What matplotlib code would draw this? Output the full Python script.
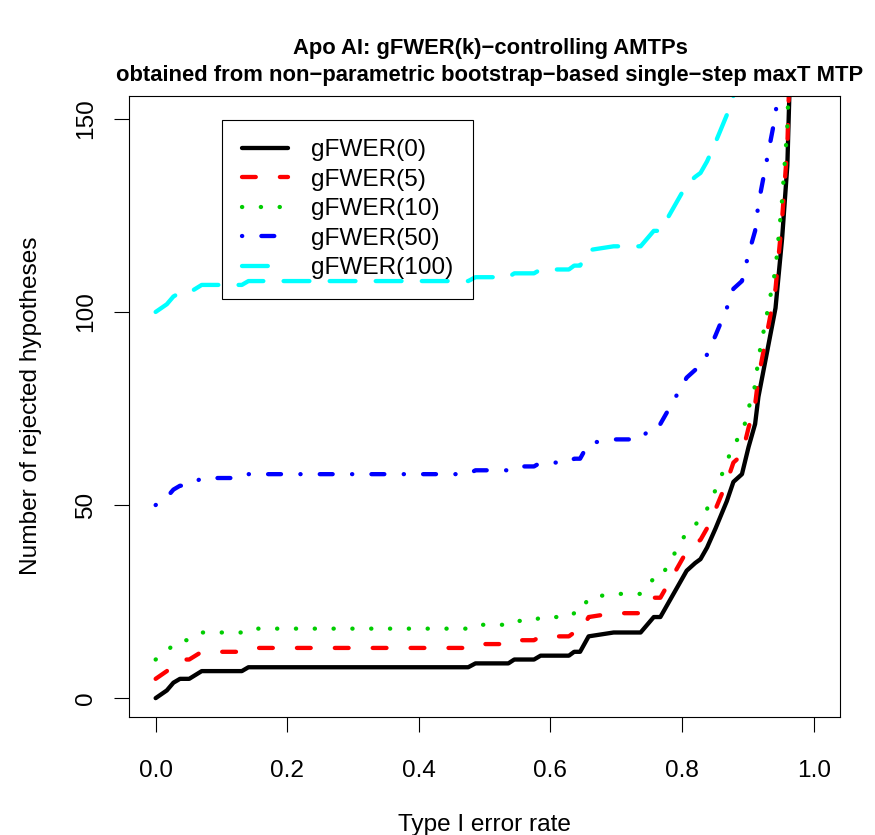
import matplotlib
matplotlib.use('Agg')
import matplotlib.pyplot as plt
import numpy as np

plt.rcParams['font.family'] = ['Liberation Sans', 'DejaVu Sans']

# type I error rate (x) and number of rejections for gFWER(0)
alpha = [0.0, 0.017, 0.027, 0.037, 0.051, 0.070, 0.131, 0.141, 0.475, 0.486,
         0.536, 0.545, 0.575, 0.585, 0.628, 0.636, 0.645, 0.658, 0.696, 0.737,
         0.757, 0.767, 0.807, 0.820, 0.828, 0.838, 0.851, 0.868, 0.878, 0.891,
         0.901, 0.911, 0.916, 0.942, 0.952, 0.960, 0.963, 0.970]
n_rej0 = [0, 2, 4, 5, 5, 7, 7, 8, 8, 9,
          9, 10, 10, 11, 11, 12, 12, 16, 17, 17,
          21, 21, 33, 35, 36, 39, 44, 51, 56, 58,
          65, 71, 78, 101, 119, 138, 156, 175]

# gFWER(k) AMTPs: k extra rejections on top of gFWER(0)
k_values = [0, 5, 10, 50, 100]
labels = ['gFWER(0)', 'gFWER(5)', 'gFWER(10)', 'gFWER(50)', 'gFWER(100)']
colors = ['black', 'red', '#00CD00', 'blue', 'cyan']
styles = ['-', (0, (3.2, 5.6)), (0, (0.05, 4.32)), (0, (0.05, 4.45, 3.0, 4.5)), (0, (6.0, 4.7))]

fig = plt.figure(figsize=(8.75, 8.35), dpi=100)
ax = fig.add_axes([0.1478, 0.1417, 0.8122, 0.7437])

x = np.array(alpha)
for k, lab, c, ls in zip(k_values, labels, colors, styles):
    y = np.array(n_rej0) + k
    ax.plot(x, y, color=c, linestyle=ls, linewidth=3.1,
            dash_capstyle='round', solid_capstyle='round', label=lab)

ax.set_xlim(-0.04, 1.04)
ax.set_ylim(-4.8, 156)
ax.set_xticks([0.0, 0.2, 0.4, 0.6, 0.8, 1.0])
ax.set_xticklabels(['0.0', '0.2', '0.4', '0.6', '0.8', '1.0'])
ax.set_yticks([0, 50, 100, 150])
ax.set_yticklabels(['0', '50', '100', '150'], rotation=90, va='center')
ax.tick_params(axis='both', labelsize=17.6, length=11, width=0.8)
ax.tick_params(axis='x', pad=20.5)
ax.tick_params(axis='y', pad=12)
for s in ax.spines.values():
    s.set_linewidth(0.8)

ax.set_xlabel('Type I error rate', fontsize=17.6, labelpad=23)
ax.set_ylabel('Number of rejected hypotheses', fontsize=17.6, labelpad=24)

fig.text(0.56, 0.942, 'Apo AI: gFWER(k)\u2212controlling AMTPs',
         ha='center', va='center', fontsize=15.8, fontweight='bold')
fig.text(0.56, 0.909,
         'obtained from non\u2212parametric bootstrap\u2212based single\u2212step maxT MTP',
         ha='center', va='center', fontsize=15.8, fontweight='bold')

# R draws the legend box without a fill, so the curves show through
leg = ax.legend(loc='upper left', bbox_to_anchor=(0.1304, 0.9612), fontsize=17.6,
                handlelength=1.9, handletextpad=0.95, labelspacing=0.3,
                borderpad=0.8, borderaxespad=0, fancybox=False,
                facecolor='none', edgecolor='black')
leg.get_frame().set_linewidth(0.8)
leg.get_frame().set_alpha(None)

fig.savefig('out.png', dpi=100)
